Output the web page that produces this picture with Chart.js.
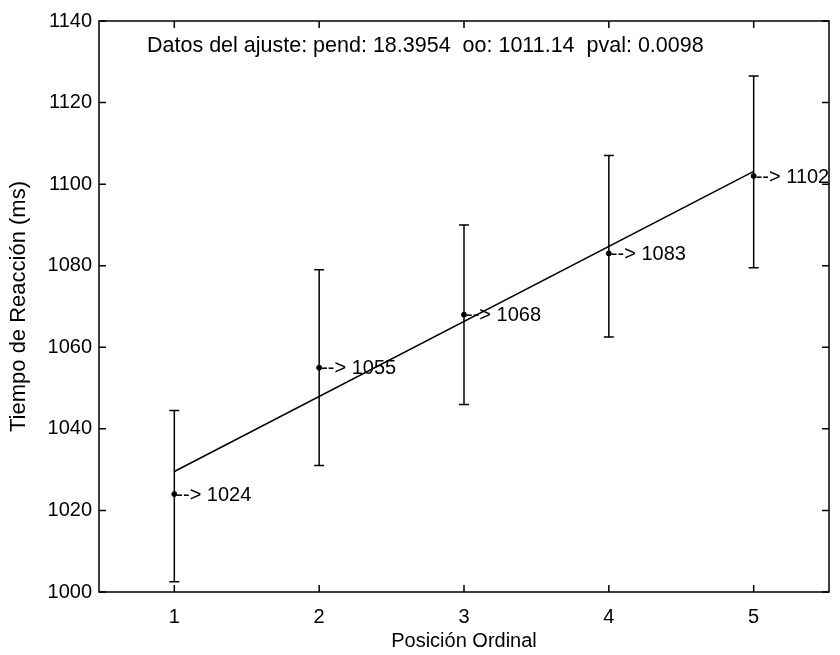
<!DOCTYPE html>
<html><head><meta charset="utf-8">
<script src="https://cdn.jsdelivr.net/npm/chart.js@4/dist/chart.umd.min.js"></script>
<style>html,body{margin:0;padding:0;background:#fff}canvas{display:block}</style>
</head><body>
<canvas id="c" width="840" height="655"></canvas>
<script>
const positions = [1, 2, 3, 4, 5];
const means = [1024, 1055, 1068, 1083, 1102];
const errLow = [1002.5, 1031, 1046, 1062.5, 1079.5];
const errHigh = [1044.5, 1079, 1090, 1107, 1126.5];
const fitX = [1, 5];
const fitY = [1029.54, 1103.12];
const xTicks = [1, 2, 3, 4, 5];
const yTicks = [1000, 1020, 1040, 1060, 1080, 1100, 1120, 1140];
const fitText = 'Datos del ajuste: pend: 18.3954  oo: 1011.14  pval: 0.0098';
const xTitle = 'Posición Ordinal';
const yTitle = 'Tiempo de Reacción (ms)';

const FONT = '"Liberation Sans", Arial, sans-serif';
const FS = 20;
const FS_YTITLE = 22;
const FS_XTITLE = 20;

const decor = {
  id: 'decor',
  afterDatasetsDraw(chart) {
    const ctx = chart.ctx, a = chart.chartArea;
    const xs = chart.scales.x, ys = chart.scales.y;
    ctx.save();
    ctx.strokeStyle = '#000';
    ctx.fillStyle = '#000';
    ctx.lineWidth = 1.5;
    positions.forEach((p, i) => {
      const px = xs.getPixelForValue(p);
      const y1 = ys.getPixelForValue(errLow[i]);
      const y2 = ys.getPixelForValue(errHigh[i]);
      ctx.beginPath();
      ctx.moveTo(px, y1); ctx.lineTo(px, y2);
      ctx.moveTo(px - 5, y1); ctx.lineTo(px + 5, y1);
      ctx.moveTo(px - 5, y2); ctx.lineTo(px + 5, y2);
      ctx.stroke();
    });
    ctx.font = FS + 'px ' + FONT;
    ctx.textAlign = 'left';
    ctx.textBaseline = 'middle';
    positions.forEach((p, i) => {
      const px = xs.getPixelForValue(p);
      const py = ys.getPixelForValue(means[i]);
      ctx.fillText('--> ' + means[i], px + 2, py + 1);
    });
    ctx.font = (FS + 1.5) + 'px ' + FONT;
    ctx.fillText(fitText, a.left + 48, a.top + 25);
    ctx.lineWidth = 1.5;
    ctx.strokeRect(a.left, a.top, a.right - a.left, a.bottom - a.top);
    const tl = 7;
    ctx.beginPath();
    xTicks.forEach(v => {
      const px = xs.getPixelForValue(v);
      ctx.moveTo(px, a.bottom); ctx.lineTo(px, a.bottom - tl);
      ctx.moveTo(px, a.top); ctx.lineTo(px, a.top + tl);
    });
    yTicks.forEach(v => {
      const py = ys.getPixelForValue(v);
      ctx.moveTo(a.left, py); ctx.lineTo(a.left + tl, py);
      ctx.moveTo(a.right, py); ctx.lineTo(a.right - tl, py);
    });
    ctx.stroke();
    ctx.restore();
  }
};

new Chart(document.getElementById('c'), {
  type: 'scatter',
  data: {
    datasets: [
      {
        label: 'fit',
        data: fitX.map((x, i) => ({ x, y: fitY[i] })),
        showLine: true,
        borderColor: '#000',
        borderWidth: 1.5,
        pointRadius: 0,
        fill: false
      },
      {
        label: 'means',
        data: positions.map((x, i) => ({ x, y: means[i] })),
        showLine: false,
        pointRadius: 2.5,
        pointBackgroundColor: '#000',
        pointBorderColor: '#000'
      }
    ]
  },
  options: {
    responsive: false,
    animation: false,
    layout: { padding: { top: 21, right: 11, left: 0, bottom: 0 } },
    plugins: { legend: { display: false }, tooltip: { enabled: false } },
    scales: {
      x: {
        type: 'linear',
        min: 0.48, max: 5.52,
        grid: { display: false, drawTicks: false },
        border: { display: false },
        afterBuildTicks: s => { s.ticks = xTicks.map(v => ({ value: v })); },
        afterFit: s => { s.height = 63; },
        ticks: { color: '#000', font: { family: FONT, size: FS }, padding: 13, maxRotation: 0, callback: v => String(v) },
        title: { display: true, text: xTitle, color: '#000', font: { family: FONT, size: FS_XTITLE }, padding: { top: 0, bottom: 2 } }
      },
      y: {
        type: 'linear',
        min: 1000, max: 1140,
        grid: { display: false, drawTicks: false },
        border: { display: false },
        afterBuildTicks: s => { s.ticks = yTicks.map(v => ({ value: v })); },
        afterFit: s => { s.width = 99; },
        ticks: { color: '#000', font: { family: FONT, size: FS }, padding: 7, callback: v => String(v) },
        title: { display: true, text: yTitle, color: '#000', font: { family: FONT, size: FS_YTITLE }, padding: { top: 6, bottom: 0 } }
      }
    }
  },
  plugins: [decor]
});
</script>
</body></html>
